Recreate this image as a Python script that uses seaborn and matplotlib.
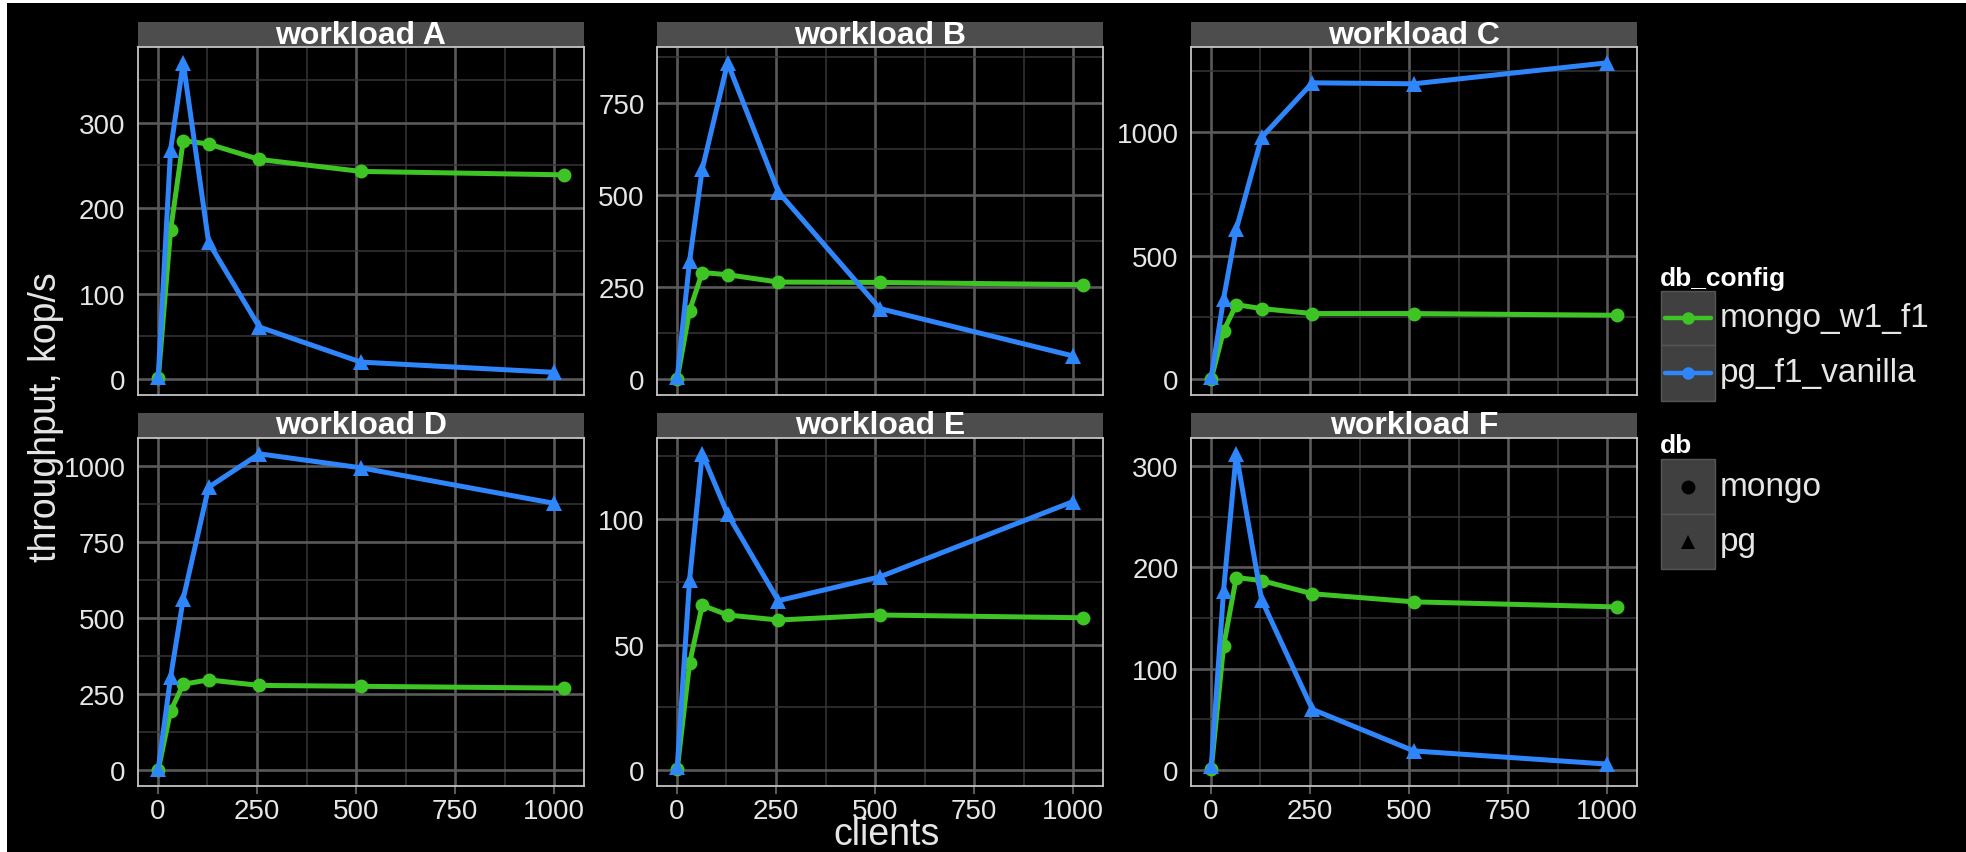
import numpy as np
import pandas as pd
import matplotlib
matplotlib.use('Agg')
import matplotlib.pyplot as plt
import seaborn as sns
from matplotlib.patches import Rectangle
from matplotlib.lines import Line2D
from matplotlib.ticker import MultipleLocator

# data (throughput, kop/s)
workloads = ['workload A', 'workload B', 'workload C',
             'workload D', 'workload E', 'workload F']
clients_mongo = [1, 32, 64, 128, 256, 512, 1024]
clients_pg = [1, 32, 64, 128, 256, 512, 1000]

mongo_a = [1, 174, 279, 275, 257, 243, 239]
mongo_b = [1, 186, 290, 284, 264, 263, 257]
mongo_c = [1, 195, 302, 286, 266, 266, 259]
mongo_d = [1, 194, 283, 297, 279, 276, 270]
mongo_e = [0.5, 42.5, 65.7, 61.8, 59.8, 61.8, 60.7]
mongo_f = [1, 122, 190, 187, 174, 166, 161]

pg_a = [3, 268, 370, 160, 61, 20, 8]
pg_b = [5, 321, 571, 860, 509, 192, 63]
pg_c = [7, 325, 607, 980, 1201, 1197, 1282]
pg_d = [5, 305, 564, 931, 1041, 995, 878]
pg_e = [1.3, 75.7, 126, 102, 67.5, 77, 107]
pg_f = [4, 177, 312, 168, 60, 19, 6]

y_steps = [100, 250, 500, 250, 50, 100]

mongo_vals = [mongo_a, mongo_b, mongo_c, mongo_d, mongo_e, mongo_f]
pg_vals = [pg_a, pg_b, pg_c, pg_d, pg_e, pg_f]

rows = []
for w, mv, pv in zip(workloads, mongo_vals, pg_vals):
    for c, v in zip(clients_mongo, mv):
        rows.append((w, c, v, 'mongo_w1_f1', 'mongo'))
    for c, v in zip(clients_pg, pv):
        rows.append((w, c, v, 'pg_f1_vanilla', 'pg'))
df = pd.DataFrame(rows, columns=['workload', 'clients', 'throughput', 'db_config', 'db'])

GREEN = '#3ec424'
BLUE = '#2f86fb'
palette = {'mongo_w1_f1': GREEN, 'pg_f1_vanilla': BLUE}
markers = {'mongo': 'o', 'pg': '^'}
msizes = {'mongo': 10, 'pg': 12}

sns.set_style('dark')
plt.rcParams['font.family'] = ['Liberation Sans', 'DejaVu Sans']

W, H = 1966, 853
fig = plt.figure(figsize=(W / 100, H / 100), dpi=100, facecolor='black')

col_x = [(138, 584), (657, 1103), (1191, 1637)]
row_y = [(48, 396), (439, 787)]
strip_h = 25

def expand(lo, hi):
    pad = (hi - lo) * 0.05
    return lo - pad, hi + pad

xlim = expand(min(df['clients']), max(df['clients']))

for i, w in enumerate(workloads):
    r, c = divmod(i, 3)
    x0, x1 = col_x[c]
    y0, y1 = row_y[r]
    ax = fig.add_axes([x0 / W, 1 - y1 / H, (x1 - x0) / W, (y1 - y0) / H])
    ax.set_facecolor('black')
    sub = df[df['workload'] == w]
    for db in ['mongo', 'pg']:
        sns.lineplot(data=sub[sub['db'] == db], x='clients', y='throughput',
                     hue='db_config', style='db', markers=markers, dashes=False,
                     palette=palette, linewidth=3.6, markersize=msizes[db],
                     markeredgewidth=0, legend=False, ax=ax, zorder=3)
    ax.set_xlim(xlim)
    ax.set_ylim(expand(0, sub['throughput'].max()))
    ax.xaxis.set_major_locator(MultipleLocator(250))
    ax.xaxis.set_minor_locator(MultipleLocator(125))
    ax.yaxis.set_major_locator(MultipleLocator(y_steps[i]))
    ax.yaxis.set_minor_locator(MultipleLocator(y_steps[i] / 2))
    ax.grid(which='major', color='#5a5a5a', linewidth=1.9)
    ax.grid(which='minor', color='#363636', linewidth=1.1)
    ax.set_axisbelow(True)
    for s in ax.spines.values():
        s.set_color('#c4c4c4')
        s.set_linewidth(1.3)
    ax.tick_params(axis='both', which='major', colors='#5a5a5a', length=6,
                   width=1.5, labelcolor='#e6e6e6', labelsize=20, pad=3)
    ax.tick_params(which='minor', length=0)
    ax.tick_params(axis='x', bottom=(r == 1), labelbottom=(r == 1))
    ax.set_xlabel('')
    ax.set_ylabel('')
    # facet strip
    sh = strip_h / (y1 - y0)
    ax.add_patch(Rectangle((0, 1), 1, sh, transform=ax.transAxes,
                           facecolor='#4d4d4d', edgecolor='none', clip_on=False))
    ax.text(0.5, 1 + sh / 2, w, transform=ax.transAxes, ha='center', va='center',
            color='white', fontsize=23, fontweight='bold')

fig.text(887 / W, 1 - 845 / H, 'clients', ha='center', va='baseline',
         color='#e6e6e6', fontsize=27)
fig.text(46 / W, 1 - 417 / H, 'throughput, kop/s', ha='center', va='center',
         rotation=90, color='#e6e6e6', fontsize=27)

# legends (figure pixel coordinates from top-left)
def fx(x):
    return x / W

def fy(y):
    return 1 - y / H

def key_box(top, bottom):
    fig.add_artist(Rectangle((fx(1661), fy(bottom)), fx(1715) - fx(1661),
                             fy(top) - fy(bottom), transform=fig.transFigure,
                             facecolor='#404040', edgecolor='#555555', lw=1))

fig.text(fx(1660), fy(286), 'db_config', ha='left', va='baseline',
         color='white', fontsize=19, fontweight='bold')
for (top, bot), lab, col in [((292, 346), 'mongo_w1_f1', GREEN),
                             ((346, 402), 'pg_f1_vanilla', BLUE)]:
    key_box(top, bot)
    yc = fy((top + bot) / 2)
    fig.add_artist(Line2D([fx(1665), fx(1711)], [yc, yc], color=col, lw=3.2,
                          transform=fig.transFigure))
    fig.add_artist(Line2D([fx(1688)], [yc], color=col, marker='o', markersize=9,
                          markeredgewidth=0, transform=fig.transFigure))
    fig.text(fx(1720), yc, lab, ha='left', va='center', color='#e6e6e6', fontsize=24)

fig.text(fx(1660), fy(453), 'db', ha='left', va='baseline',
         color='white', fontsize=19, fontweight='bold')
for (top, bot), lab, mk in [((460, 515), 'mongo', 'o'), ((515, 570), 'pg', '^')]:
    key_box(top, bot)
    yc = fy((top + bot) / 2)
    fig.add_artist(Line2D([fx(1688)], [yc], color='black', marker=mk, markersize=10,
                          markeredgewidth=0, transform=fig.transFigure))
    fig.text(fx(1720), yc, lab, ha='left', va='center', color='#e6e6e6', fontsize=24)

# thin white margin at the top and left edge
fig.add_artist(Rectangle((0, 0), 7 / W, 1, transform=fig.transFigure,
                         facecolor='white', edgecolor='none'))
fig.add_artist(Rectangle((0, 1 - 4 / H), 1, 4 / H, transform=fig.transFigure,
                         facecolor='white', edgecolor='none'))

fig.savefig('out.png', dpi=100, facecolor='black')
